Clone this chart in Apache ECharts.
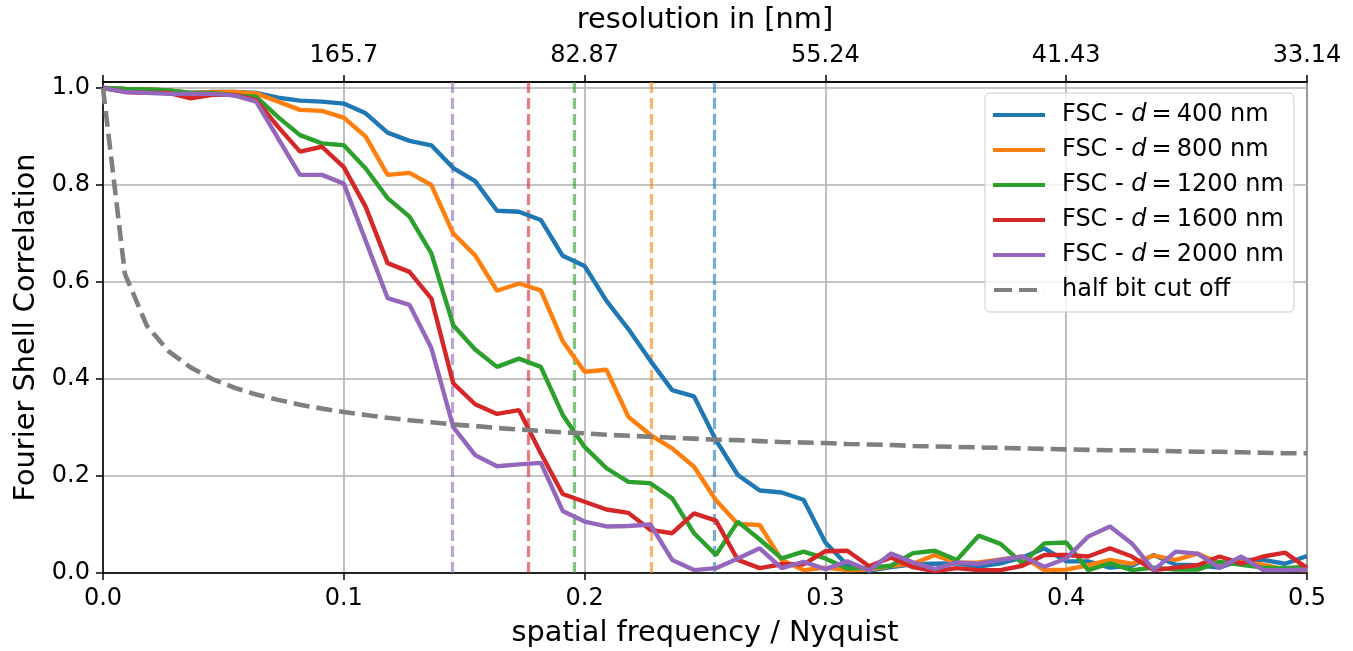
<!DOCTYPE html>
<html>
<head>
<meta charset="utf-8">
<script src="https://cdn.jsdelivr.net/npm/echarts@6/dist/echarts.min.js"></script>
<style>
  html, body { margin: 0; padding: 0; background: #fff; }
  #chart { width: 1353px; height: 651px; }
</style>
</head>
<body>
<div id="chart"></div>
<script>
// spatial frequency sampling: 56 shells from 0 to 0.5 (Nyquist)
const freqStep = 0.5 / 55;

const seriesNames = [
  'FSC - d = 400 nm',
  'FSC - d = 800 nm',
  'FSC - d = 1200 nm',
  'FSC - d = 1600 nm',
  'FSC - d = 2000 nm'
];
const halfBitName = 'half bit cut off';

const fsc400 = [1.000,0.998,0.997,0.995,0.990,0.992,0.992,0.990,0.980,0.974,0.972,0.968,0.948,0.908,0.891,0.882,
  0.835,0.808,0.747,0.745,0.728,0.654,0.633,0.561,0.503,0.438,0.377,0.364,0.274,0.202,0.170,0.166,
  0.151,0.063,0.016,0.005,0.012,0.018,0.019,0.020,0.013,0.020,0.032,0.051,0.024,0.024,0.011,0.015,
  0.037,0.017,0.016,0.011,0.027,0.027,0.019,0.035];
const fsc800 = [1.000,0.998,0.997,0.995,0.990,0.992,0.992,0.989,0.972,0.955,0.953,0.939,0.900,0.821,0.825,0.800,
  0.700,0.655,0.582,0.597,0.583,0.478,0.415,0.419,0.322,0.285,0.257,0.219,0.150,0.101,0.099,0.027,
  0.006,0.011,0.006,0.007,0.015,0.019,0.037,0.021,0.022,0.028,0.034,0.006,0.007,0.016,0.027,0.019,
  0.036,0.027,0.040,0.020,0.023,0.017,0.007,0.006];
const fsc1200 = [1.000,0.998,0.997,0.995,0.990,0.990,0.985,0.982,0.940,0.903,0.886,0.882,0.834,0.773,0.735,0.659,
  0.511,0.461,0.425,0.442,0.425,0.326,0.260,0.216,0.188,0.185,0.154,0.082,0.037,0.106,0.069,0.030,
  0.044,0.030,0.009,0.011,0.015,0.041,0.046,0.027,0.077,0.060,0.020,0.061,0.063,0.006,0.020,0.006,
  0.011,0.007,0.007,0.023,0.017,0.011,0.010,0.013];
const fsc1600 = [1.000,0.992,0.990,0.990,0.979,0.986,0.986,0.975,0.920,0.869,0.879,0.837,0.755,0.639,0.621,0.566,
  0.391,0.348,0.328,0.336,0.247,0.163,0.147,0.131,0.124,0.089,0.082,0.123,0.108,0.027,0.010,0.018,
  0.018,0.045,0.046,0.014,0.032,0.012,0.004,0.010,0.006,0.006,0.015,0.037,0.037,0.034,0.051,0.034,
  0.006,0.011,0.016,0.034,0.020,0.034,0.042,0.010];
const fsc2000 = [1.000,0.992,0.990,0.988,0.988,0.988,0.985,0.972,0.896,0.821,0.821,0.803,0.685,0.567,0.553,0.464,
  0.301,0.243,0.220,0.224,0.227,0.128,0.106,0.096,0.097,0.100,0.027,0.006,0.010,0.030,0.051,0.010,
  0.023,0.008,0.024,0.005,0.040,0.022,0.008,0.022,0.019,0.027,0.034,0.013,0.030,0.075,0.096,0.061,
  0.006,0.044,0.040,0.011,0.034,0.006,0.006,0.007];
const halfBit = [1.000,0.617,0.510,0.457,0.424,0.400,0.382,0.368,0.357,0.347,0.339,0.332,0.326,0.320,0.315,0.311,
  0.306,0.303,0.299,0.296,0.293,0.290,0.288,0.285,0.283,0.281,0.279,0.277,0.275,0.274,0.272,0.270,
  0.269,0.268,0.266,0.265,0.264,0.262,0.261,0.260,0.259,0.258,0.257,0.256,0.255,0.254,0.253,0.253,
  0.252,0.251,0.250,0.250,0.249,0.248,0.247,0.247];

// resolution cut-off (intersection with half-bit curve) per series
const crossings = [0.2537, 0.2276, 0.1956, 0.1765, 0.1449];

const yTicks = [0, 0.2, 0.4, 0.6, 0.8, 1.0];
const topLabels = ['', '165.7', '82.87', '55.24', '41.43', '33.14'];

const colors = ['#1f77b4', '#ff7f0e', '#2ca02c', '#d62728', '#9467bd'];
const halfBitColor = '#7f7f7f';
const FONT = 'DejaVu Sans';

const solidIcon = 'path://M0,0 L52,0 L52,4 L0,4 Z';
const dashIcon = 'path://M2,0 L20,0 L20,4 L2,4 Z M27,0 L45,0 L45,4 L27,4 Z M52,0 L52,4 L51.9,4 L51.9,0 Z';

const allFsc = [fsc400, fsc800, fsc1200, fsc1600, fsc2000];
const toPairs = arr => arr.map((v, i) => [i * freqStep, v]);

const series = allFsc.map((arr, k) => ({
  name: seriesNames[k],
  type: 'line',
  data: toPairs(arr),
  symbol: 'none',
  showSymbol: false,
  z: 3,
  lineStyle: { color: colors[k], width: 4.4 },
  itemStyle: { color: colors[k] },
  markLine: {
    silent: true,
    symbol: 'none',
    precision: 6,
    label: { show: false },
    z: 2,
    lineStyle: { color: colors[k], type: [11, 5], width: 3.2, opacity: 0.6 },
    data: [{ xAxis: crossings[k] }]
  }
}));
series.push({
  name: halfBitName,
  type: 'line',
  data: toPairs(halfBit),
  symbol: 'none',
  showSymbol: false,
  z: 4,
  lineStyle: { color: halfBitColor, width: 4.6, type: [16, 7] },
  itemStyle: { color: halfBitColor }
});

const legendData = seriesNames.map((n, k) => ({ name: n, icon: solidIcon, itemStyle: { color: colors[k] } }))
  .concat([{ name: halfBitName, icon: dashIcon, itemStyle: { color: halfBitColor } }]);

const chart = echarts.init(document.getElementById('chart'), null, { renderer: 'canvas' });
chart.setOption({
  animation: false,
  backgroundColor: '#fff',
  color: colors.concat([halfBitColor]),
  grid: {
    left: 103, right: 46, top: 82, bottom: 78,
    outerBoundsMode: 'none',
    containLabel: false,
    show: true, borderColor: '#000', borderWidth: 1.5, backgroundColor: 'transparent'
  },
  legend: {
    orient: 'vertical',
    left: 985,
    top: 93,
    padding: [8, 10, 8, 8],
    itemWidth: 52,
    itemHeight: 4,
    itemGap: 7,
    backgroundColor: 'rgba(255,255,255,0.8)',
    borderColor: '#cccccc',
    borderWidth: 1,
    borderRadius: 5,
    data: legendData,
    formatter: name => name.replace(' d = ', ' {i|d}{s|=}'),
    textStyle: {
      fontFamily: FONT, fontSize: 24, color: '#000', lineHeight: 28,
      padding: [0, 0, 0, 12],
      rich: {
        i: { fontFamily: FONT, fontSize: 24, fontStyle: 'italic', color: '#000', lineHeight: 28, padding: [0, 5, 0, 0] },
        s: { fontFamily: FONT, fontSize: 24, color: '#000', lineHeight: 28, padding: [0, 5, 0, 0] }
      }
    }
  },
  xAxis: [
    {
      type: 'value', position: 'bottom', min: 0, max: 0.5, interval: 0.1,
      name: 'spatial frequency / Nyquist', nameLocation: 'middle', nameGap: 46,
      nameTextStyle: { fontFamily: FONT, fontSize: 28.8, color: '#000' },
      axisLine: { show: true, onZero: false, lineStyle: { color: '#000', width: 1.5 } },
      axisTick: { show: true, length: 7, lineStyle: { color: '#000', width: 1.5 } },
      axisLabel: { margin: 14, fontFamily: FONT, fontSize: 24, color: '#000',
        formatter: v => v.toFixed(1) },
      splitLine: { show: true, lineStyle: { color: '#b0b0b0', width: 1.6 } }
    },
    {
      type: 'value', position: 'top', min: 0, max: 0.5, interval: 0.1,
      name: 'resolution in [nm]', nameLocation: 'middle', nameGap: 47,
      nameTextStyle: { fontFamily: FONT, fontSize: 28.8, color: '#000' },
      axisLine: { show: true, onZero: false, lineStyle: { color: '#000', width: 1.5 } },
      axisTick: { show: true, length: 7, lineStyle: { color: '#000', width: 1.5 } },
      axisLabel: { margin: 14, fontFamily: FONT, fontSize: 24, color: '#000',
        formatter: v => topLabels[Math.round(v * 10)] },
      splitLine: { show: false }
    }
  ],
  yAxis: {
    type: 'value', min: 0, max: 1.0125, interval: 0.2,
    name: 'Fourier Shell Correlation', nameLocation: 'middle', nameGap: 54,
    nameTextStyle: { fontFamily: FONT, fontSize: 28.8, color: '#000' },
    axisLine: { show: true, lineStyle: { color: '#000', width: 1.5 } },
    axisTick: { show: true, length: 7, customValues: yTicks, lineStyle: { color: '#000', width: 1.5 } },
    axisLabel: { margin: 13, fontFamily: FONT, fontSize: 24, color: '#000', customValues: yTicks,
      formatter: v => v.toFixed(1) },
    splitLine: { show: true, lineStyle: { color: '#b0b0b0', width: 1.6 } }
  },
  series: series
});
</script>
</body>
</html>
